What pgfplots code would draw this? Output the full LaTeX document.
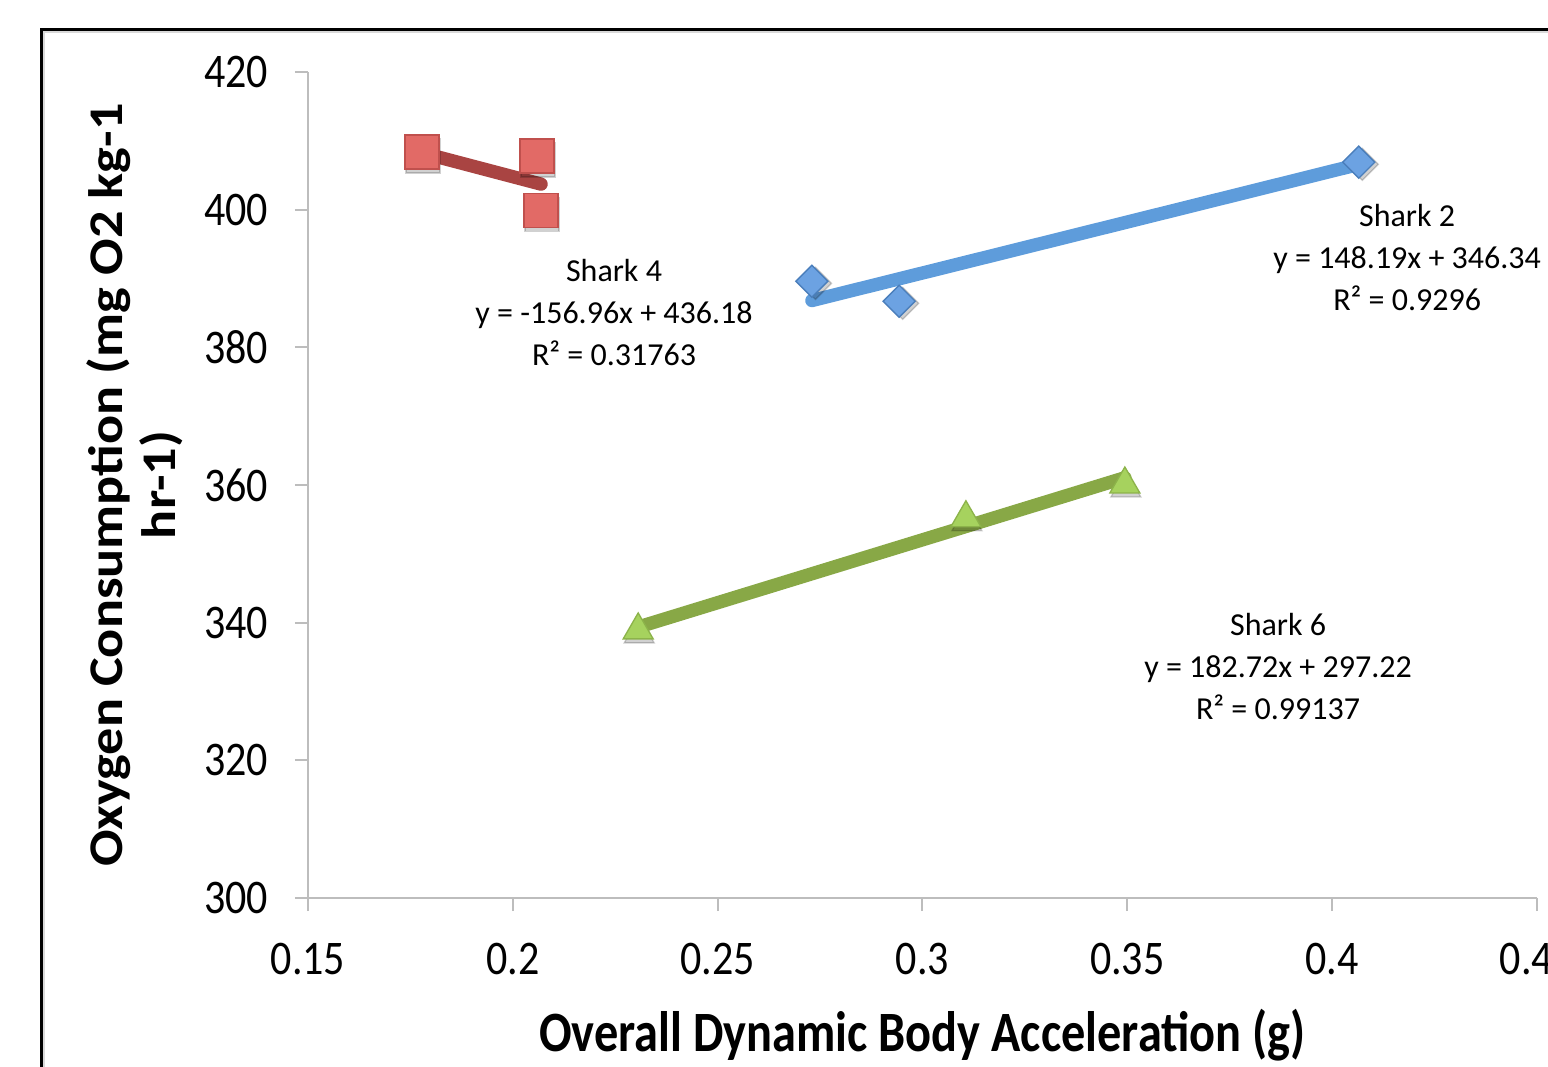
\documentclass[border=0pt]{standalone}
\usepackage{fontspec}
\setmainfont{Carlito}
\usepackage{pgfplots}
\pgfplotsset{compat=1.18}

\definecolor{bluefill}{HTML}{6CA2E2}
\definecolor{bluedraw}{HTML}{4A7EBB}
\definecolor{blueline}{HTML}{5E9CDB}
\definecolor{redfill}{HTML}{E26A66}
\definecolor{reddraw}{HTML}{C0504D}
\definecolor{redline}{HTML}{A94442}
\definecolor{greenfill}{HTML}{A6D25E}
\definecolor{greendraw}{HTML}{8CB34A}
\definecolor{greenline}{HTML}{88A846}
\definecolor{axisgray}{HTML}{BDBDBD}

\newcommand{\tallx}[1]{\scalebox{1}[1.15]{#1}}

\begin{document}
\begin{tikzpicture}
  % page is 1548 x 1066 px at 0.3pt per px
  \clip (0pt,0pt) rectangle (464.4pt,319.8pt);
  \draw[black, line width=0.9pt] (12.3pt,-2pt) -- (12.3pt,311.1pt) -- (470pt,311.1pt);
  \draw[black!15, line width=0.6pt] (13.3pt,-2pt) -- (13.3pt,310.1pt) -- (470pt,310.1pt);

  \begin{axis}[
    at={(92.4pt,50.4pt)}, anchor=south west,
    scale only axis,
    width=368.7pt, height=247.8pt,
    xmin=0.15, xmax=0.45,
    ymin=300, ymax=420,
    xtick={0.15,0.2,0.25,0.3,0.35,0.4,0.45},
    ytick={300,320,340,360,380,400,420},
    axis lines*=left,
    axis line style={axisgray, line width=0.6pt, -},
    tick style={axisgray, line width=0.6pt},
    tick align=outside,
    major tick length=3.9pt,
    clip=false,
    ticklabel style={font=\fontsize{12.6}{15}\selectfont},
    xticklabel={\tallx{\pgfmathprintnumber[assume math mode=true]{\tick}}},
    yticklabel={\tallx{\pgfmathprintnumber[assume math mode=true]{\tick}}},
    yticklabel style={xshift=-4.5pt},
    xticklabel style={yshift=-6pt},
    xlabel={\scalebox{1}[1.18]{Overall Dynamic Body Acceleration (g)}},
    ylabel={\scalebox{1.12}[1]{\begin{tabular}{@{}c@{}}Oxygen Consumption (mg O2 kg-1\\hr-1)\end{tabular}}},
    xlabel style={font=\bfseries\fontsize{14.5}{15.9}\selectfont, at={(axis description cs:0.5,-0.166)}, anchor=center},
    ylabel style={font=\bfseries\fontsize{14.5}{15.9}\selectfont, at={(axis description cs:-0.138,0.5)}, anchor=center},
  ]
    % marker shadows
    \addplot[only marks, mark=square*, mark size=5.1pt, mark options={fill=black, draw=none, opacity=0.18, yshift=-1.2pt, xshift=0.3pt}]
      coordinates {(0.1778,408.4) (0.2059,407.8) (0.2069,399.9)};
    \addplot[only marks, mark=square*, mark size=3.4pt, mark options={rotate=45, fill=black, draw=none, opacity=0.18, yshift=-1.2pt, xshift=0.3pt}]
      coordinates {(0.2730,389.6) (0.2943,386.7) (0.4065,406.9)};
    \addplot[only marks, mark=triangle*, mark size=5.2pt, mark options={fill=black, draw=none, opacity=0.18, yshift=-1.2pt, xshift=0.3pt}]
      coordinates {(0.2306,338.9) (0.3106,355.2) (0.3494,360.1)};

    % markers
    \addplot[only marks, mark=square*, mark size=5.1pt, mark options={fill=redfill, draw=reddraw, line width=0.4pt}]
      coordinates {(0.1778,408.4) (0.2059,407.8) (0.2069,399.9)};
    \addplot[only marks, mark=square*, mark size=3.4pt, mark options={rotate=45, fill=bluefill, draw=bluedraw, line width=0.4pt}]
      coordinates {(0.2730,389.6) (0.2943,386.7) (0.4065,406.9)};
    \addplot[only marks, mark=triangle*, mark size=5.2pt, mark options={fill=greenfill, draw=greendraw, line width=0.4pt}]
      coordinates {(0.2306,338.9) (0.3106,355.2) (0.3494,360.1)};

    % trendlines
    \addplot[redline, line width=4pt, line cap=round] coordinates {(0.1778,408.27) (0.2069,403.71)};
    \addplot[blueline, line width=4pt, line cap=round] coordinates {(0.2730,386.80) (0.4065,406.58)};
    \addplot[greenline, line width=4pt, line cap=round] coordinates {(0.2306,339.36) (0.3494,361.06)};

    % trendline labels
    \node[align=center, font=\fontsize{9.6}{12.6}\selectfont] at (axis cs:0.2247,385.1)
      {Shark 4\\y = -156.96x + 436.18\\R² = 0.31763};
    \node[align=center, font=\fontsize{9.6}{12.6}\selectfont] at (axis cs:0.4183,393.1)
      {Shark 2\\y = 148.19x + 346.34\\R² = 0.9296};
    \node[align=center, font=\fontsize{9.6}{12.6}\selectfont] at (axis cs:0.3868,333.6)
      {Shark 6\\y = 182.72x + 297.22\\R² = 0.99137};
  \end{axis}
\end{tikzpicture}
\end{document}
